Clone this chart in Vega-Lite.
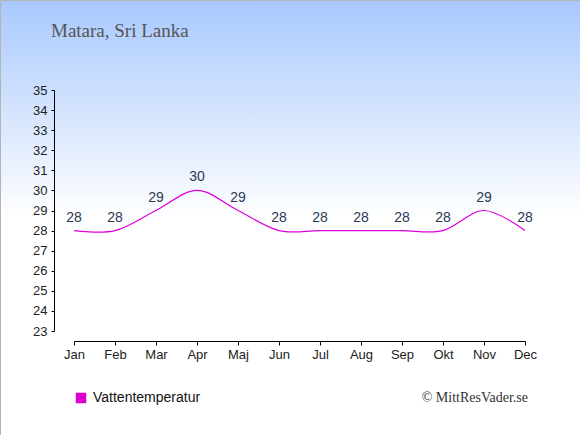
{
  "$schema": "https://vega.github.io/schema/vega-lite/v6.json",
  "width": 580,
  "height": 435,
  "autosize": {"type": "none"},
  "padding": 0,
  "background": "#ffffff",
  "title": {
    "text": "Matara, Sri Lanka",
    "anchor": "start",
    "frame": "group",
    "offset": -41,
    "dx": 51,
    "font": "Liberation Serif",
    "fontSize": 19,
    "fontWeight": "normal",
    "color": "#555555"
  },
  "config": {
    "view": {
      "stroke": "#b4b4b4",
      "strokeWidth": 1,
      "fill": {
        "gradient": "linear",
        "x1": 0, "y1": 0, "x2": 0, "y2": 1,
        "stops": [
          {"offset": 0, "color": "#a8c8fd"},
          {"offset": 0.5, "color": "#ffffff"},
          {"offset": 1, "color": "#ffffff"}
        ]
      }
    },
    "axis": {
      "grid": false,
      "domainColor": "#000000",
      "tickColor": "#000000",
      "labelFont": "Liberation Sans",
      "labelFontSize": 13,
      "labelColor": "#222222",
      "labelOverlap": false,
      "title": null
    }
  },
  "data": {
    "values": [
      {"month": "Jan", "temp": 28},
      {"month": "Feb", "temp": 28},
      {"month": "Mar", "temp": 29},
      {"month": "Apr", "temp": 30},
      {"month": "Maj", "temp": 29},
      {"month": "Jun", "temp": 28},
      {"month": "Jul", "temp": 28},
      {"month": "Aug", "temp": 28},
      {"month": "Sep", "temp": 28},
      {"month": "Okt", "temp": 28},
      {"month": "Nov", "temp": 29},
      {"month": "Dec", "temp": 28}
    ]
  },
  "encoding": {
    "x": {
      "field": "month",
      "type": "ordinal",
      "sort": null,
      "scale": {"type": "point", "range": [74, 525], "padding": 0},
      "axis": {"orient": "bottom", "offset": -94, "labelAngle": 0, "tickSize": 4, "labelPadding": 3}
    },
    "y": {
      "field": "temp",
      "type": "quantitative",
      "scale": {"domain": [23, 35], "range": [331, 90], "zero": false, "nice": false},
      "axis": {"orient": "left", "offset": -54, "values": [23, 24, 25, 26, 27, 28, 29, 30, 31, 32, 33, 34, 35], "tickSize": 3, "labelPadding": 4}
    }
  },
  "layer": [
    {
      "mark": {"type": "line", "interpolate": "cardinal", "strokeWidth": 1.2},
      "encoding": {
        "color": {
          "datum": "Vattentemperatur",
          "type": "nominal",
          "scale": {"range": ["#dd00dd"]},
          "legend": {
            "orient": "none",
            "legendX": 74,
            "legendY": 391,
            "title": null,
            "symbolType": "square",
            "symbolSize": 110,
            "symbolFillColor": "#dd00cc",
            "symbolStrokeWidth": 0,
            "labelFont": "Liberation Sans",
            "labelFontSize": 14,
            "labelColor": "#111111",
            "labelOffset": 5
          }
        }
      }
    },
    {
      "mark": {"type": "text", "dy": -9, "baseline": "alphabetic", "font": "Liberation Sans", "fontSize": 14, "color": "#2b3a55"},
      "encoding": {
        "text": {"field": "temp", "type": "quantitative"}
      }
    },
    {
      "data": {"values": [{"month": "Dec", "temp": 19.47, "note": "© MittResVader.se"}]},
      "mark": {"type": "text", "align": "right", "baseline": "alphabetic", "dx": 3, "font": "Liberation Serif", "fontSize": 14, "color": "#333333"},
      "encoding": {
        "text": {"field": "note", "type": "nominal"}
      }
    }
  ]
}
